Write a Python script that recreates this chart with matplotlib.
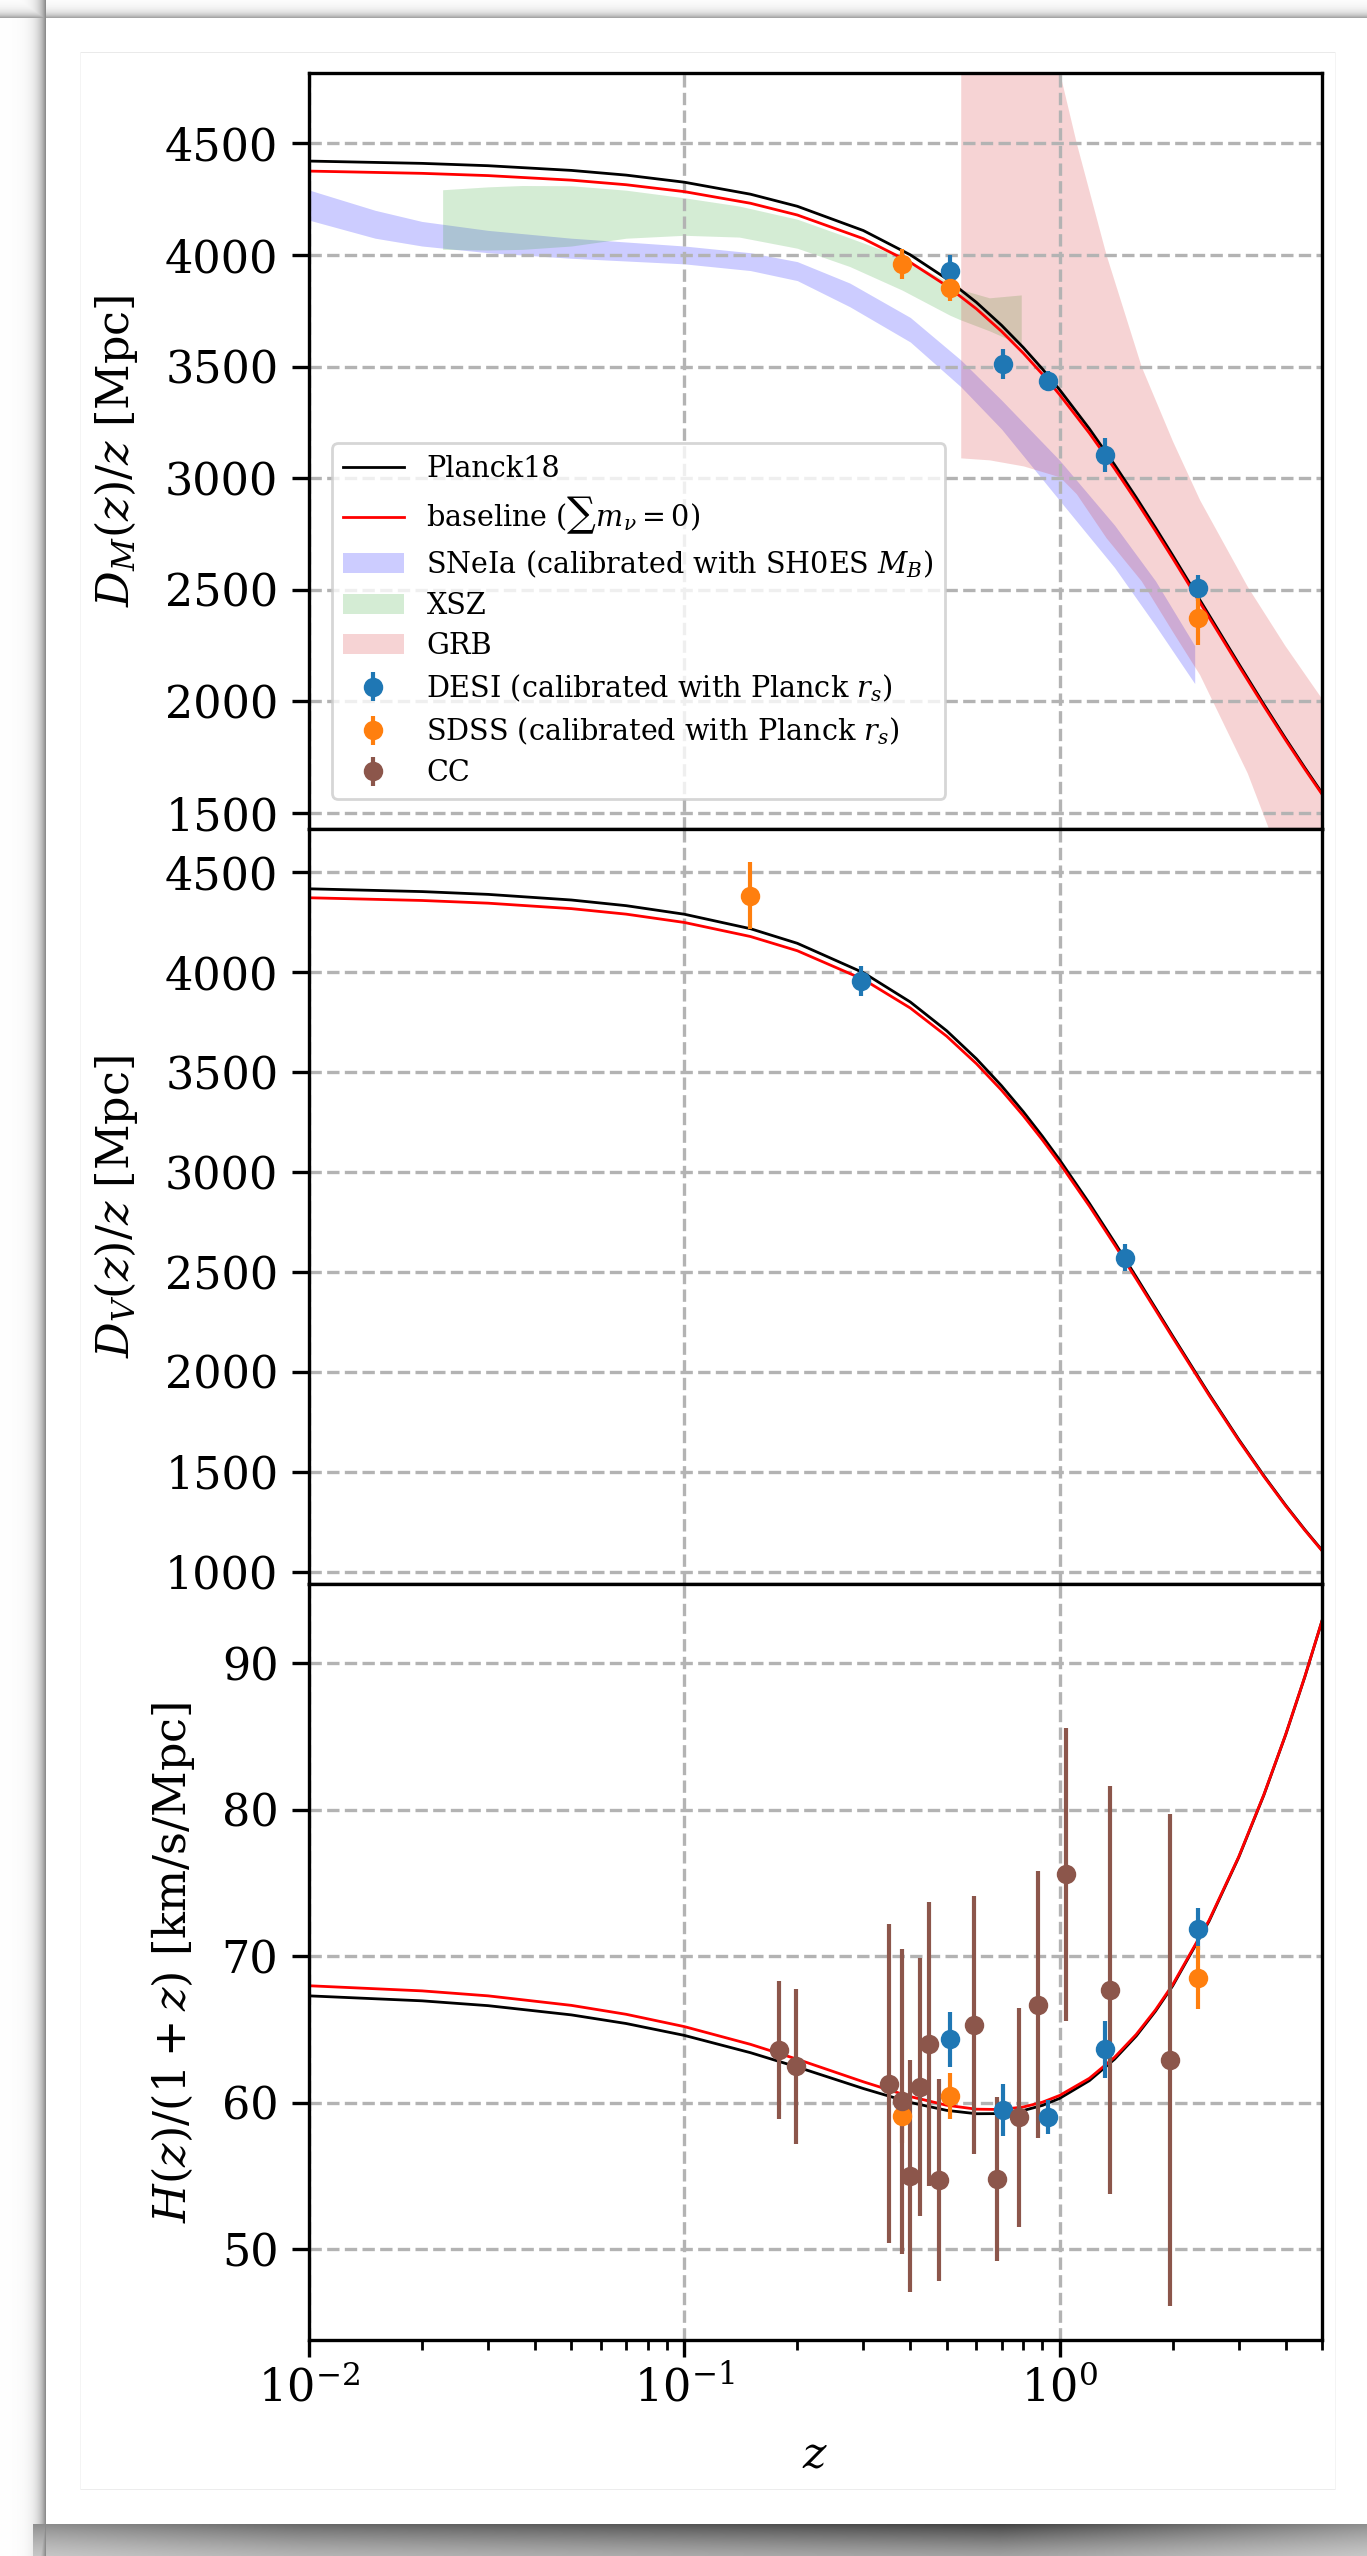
import numpy as np
import matplotlib
matplotlib.use('Agg')
import matplotlib.pyplot as plt

plt.rcParams['font.family'] = ['DejaVu Serif']
plt.rcParams['mathtext.fontset'] = 'dejavuserif'
plt.rcParams['font.size'] = 16

# ---- model curves ----
z_model = [0.01, 0.02, 0.03, 0.05, 0.07, 0.1, 0.15, 0.2, 0.3, 0.4, 0.5, 0.6, 0.7,
           0.8, 0.9, 1.0, 1.2, 1.4, 1.6, 1.8, 2.0, 2.5, 3.0, 3.5, 4.0, 4.5, 5.0]
dm_planck = [4420.5, 4410.2, 4399.7, 4378.7, 4357.6, 4325.8, 4272.1, 4218.0, 4109.2,
             4000.6, 3893.1, 3787.7, 3685.0, 3585.3, 3488.9, 3396.1, 3221.3, 3060.6,
             2913.3, 2778.4, 2654.7, 2387.4, 2168.6, 1986.8, 1833.6, 1702.8, 1589.9]
dm_base = [4375.6, 4365.5, 4355.4, 4335.0, 4314.5, 4283.6, 4231.5, 4178.9, 4072.9,
           3966.9, 3861.8, 3758.6, 3657.9, 3560.0, 3465.3, 3373.9, 3201.7, 3043.1,
           2897.6, 2764.1, 2641.6, 2376.8, 2159.6, 1979.0, 1826.8, 1696.7, 1584.4]
dv_planck = [4417.1, 4403.2, 4389.2, 4361.1, 4332.7, 4289.9, 4217.5, 4144.4, 3997.3,
             3850.8, 3706.8, 3566.7, 3431.6, 3302.0, 3178.3, 3060.7, 2843.4, 2648.8,
             2474.9, 2319.3, 2179.9, 1889.4, 1662.1, 1480.7, 1332.9, 1210.6, 1107.8]
dv_base = [4372.3, 4358.7, 4345.2, 4317.9, 4290.3, 4248.7, 4178.4, 4107.2, 3963.7,
           3820.6, 3679.6, 3542.2, 3409.4, 3281.9, 3160.1, 3044.0, 2829.4, 2636.8,
           2464.5, 2310.3, 2172.0, 1883.3, 1657.2, 1476.6, 1329.5, 1207.7, 1105.2]
hz_planck = [67.30, 66.96, 66.63, 66.00, 65.41, 64.60, 63.42, 62.44, 60.97, 60.02, 59.48,
             59.25, 59.26, 59.47, 59.82, 60.30, 61.51, 62.97, 64.56, 66.25, 67.98, 72.39,
             76.76, 81.01, 85.12, 89.08, 92.90]
hz_base = [67.99, 67.64, 67.30, 66.65, 66.04, 65.20, 63.99, 62.97, 61.43, 60.42, 59.83,
           59.56, 59.54, 59.71, 60.04, 60.50, 61.67, 63.10, 64.67, 66.34, 68.06, 72.45,
           76.80, 81.04, 85.14, 89.10, 92.91]

# ---- reconstructed bands in the top panel ----
z_sn = [0.01, 0.015, 0.02, 0.03, 0.05, 0.1, 0.15, 0.2, 0.276, 0.4, 0.545, 0.7, 1.0, 1.4, 1.8, 2.29]
sn_hi = [4291, 4200, 4150, 4110, 4075, 4040, 4010, 3970, 3874, 3720, 3530, 3350, 3080, 2790, 2540, 2250]
sn_lo = [4156, 4075, 4040, 4010, 3985, 3960, 3930, 3885, 3768, 3610, 3410, 3220, 2900, 2600, 2340, 2080]

z_xsz = [0.0227, 0.03, 0.037, 0.05, 0.07, 0.1, 0.14, 0.2, 0.276, 0.38, 0.51, 0.545, 0.65, 0.79]
xsz_hi = [4292, 4305, 4311, 4310, 4290, 4256, 4219, 4160, 4076, 3990, 3874, 3845, 3808, 3821]
xsz_lo = [4025, 4022, 4025, 4040, 4075, 4088, 4080, 4030, 3948, 3843, 3730, 3709, 3660, 3597]

z_grb = [0.545, 0.65, 0.8, 1.0, 1.108, 1.33, 1.65, 2.0, 2.36, 3.16, 3.98, 5.0]
grb_hi = [6500, 6000, 5400, 4815, 4500, 4000, 3500, 3165, 2903, 2516, 2251, 2011]
grb_lo = [3091, 3082, 3055, 3006, 2930, 2733, 2540, 2312, 2120, 1680, 1240, 760]

# ---- BAO / CC measurements ----
desi_dm_z = [0.51, 0.706, 0.93, 1.317, 2.33]
desi_dm = [3928, 3511, 3434, 3104, 2507]
desi_dm_err = [72, 67, 44, 77, 59]
sdss_dm_z = [0.38, 0.51, 2.33]
sdss_dm = [3960, 3853, 2374]
sdss_dm_err = [66, 61, 120]

desi_dv_z = [0.295, 1.491]
desi_dv = [3954, 2572]
desi_dv_err = [75, 66]
sdss_dv_z = [0.15]
sdss_dv = [4383]
sdss_dv_err = [167]

desi_h_z = [0.51, 0.706, 0.93, 1.317, 2.33]
desi_h = [64.34, 59.50, 59.06, 63.65, 71.84]
desi_h_err = [1.87, 1.78, 1.16, 1.93, 1.43]
sdss_h_z = [0.38, 0.51, 2.33]
sdss_h = [59.08, 60.45, 68.54]
sdss_h_err = [1.80, 1.57, 2.15]
cc_z = [0.179, 0.199, 0.352, 0.3802, 0.4004, 0.4247, 0.4497, 0.4783, 0.593, 0.68,
        0.781, 0.875, 1.037, 1.363, 1.965]
cc_h = [63.6, 62.5, 61.3, 60.1, 55.0, 61.1, 64.0, 54.7, 65.3, 54.8, 59.0, 66.7, 75.6, 67.7, 62.9]
cc_err = [4.7, 5.3, 10.9, 10.4, 7.9, 8.8, 9.7, 6.9, 8.8, 5.6, 7.5, 9.1, 10.0, 13.9, 16.8]

# ---- figure ----
fig, axes = plt.subplots(3, 1, sharex=True, figsize=(6.835, 12.78), dpi=200)
fig.subplots_adjust(left=309 / 1367, right=1322 / 1367, top=1 - 73 / 2556,
                    bottom=1 - 2340 / 2556, hspace=0)

# screenshot page + drop shadow behind everything
W, H = 1367, 2556
yy, xx = np.mgrid[0:H, 0:W]
dl = 46 - xx
dt = 18 - yy
db = yy - 2523
shade = np.zeros((H, W))
shade = np.maximum(shade, np.where(dl > 0, 0.45 * np.exp(-(dl - 1) / 7.0), 0))
shade = np.maximum(shade, np.where(dt > 0, 0.35 * np.exp(-(dt - 1) / 5.0), 0))
bot_strength = np.interp(xx, [30, 300, 1000, 1367], [0.45, 0.6, 0.75, 0.45])
shade = np.maximum(shade, np.where((db > 0) & (xx > 32), bot_strength * np.exp(-db / 45.0), 0))
page = 1 - shade
page[52, 80:1336] = 0.92
page[2489, 80:1336] = 0.93
page[52:2490, 80] = 0.96
page[52:2490, 1335] = 0.96
bg = fig.add_axes([0, 0, 1, 1], zorder=-10)
bg.imshow(np.dstack([page] * 3), aspect='auto', interpolation='nearest')
bg.axis('off')

ax1, ax2, ax3 = axes
for ax in axes:
    ax.set_xscale('log')
    ax.grid(True, which='major', ls='--', color='0.7', lw=1.2)
    for sp in ax.spines.values():
        sp.set_linewidth(1.2)
    ax.tick_params(axis='y', direction='out', length=6, width=1.2, pad=5, labelsize=16)

l1, = ax1.plot(z_model, dm_planck, color='k', lw=1.0, label='Planck18')
l2, = ax1.plot(z_model, dm_base, color='red', lw=1.0, label=r'baseline ($\sum m_\nu=0$)')
b1 = ax1.fill_between(z_sn, sn_lo, sn_hi, color='b', alpha=0.2, lw=0,
                      label=r'SNeIa (calibrated with SH0ES $M_B$)')
b2 = ax1.fill_between(z_xsz, xsz_lo, xsz_hi, color='tab:green', alpha=0.2, lw=0, label='XSZ')
b3 = ax1.fill_between(z_grb, grb_lo, grb_hi, color='tab:red', alpha=0.2, lw=0, label='GRB')
e1 = ax1.errorbar(desi_dm_z, desi_dm, yerr=desi_dm_err, fmt='o', color='C0',
                  label=r'DESI (calibrated with Planck $r_s$)')
e2 = ax1.errorbar(sdss_dm_z, sdss_dm, yerr=sdss_dm_err, fmt='o', color='C1',
                  label=r'SDSS (calibrated with Planck $r_s$)')
ax1.set_ylim(1430, 4815)
ax1.set_yticks([1500, 2000, 2500, 3000, 3500, 4000, 4500])
ax1.set_ylabel(r'$D_M(z)/z$ [Mpc]', labelpad=9)

ax2.plot(z_model, dv_planck, color='k', lw=1.0)
ax2.plot(z_model, dv_base, color='red', lw=1.0)
ax2.errorbar(desi_dv_z, desi_dv, yerr=desi_dv_err, fmt='o', color='C0')
ax2.errorbar(sdss_dv_z, sdss_dv, yerr=sdss_dv_err, fmt='o', color='C1')
ax2.set_ylim(937, 4718)
ax2.set_yticks([1000, 1500, 2000, 2500, 3000, 3500, 4000, 4500])
ax2.set_ylabel(r'$D_V(z)/z$ [Mpc]', labelpad=9)

ax3.plot(z_model, hz_planck, color='k', lw=1.0)
ax3.plot(z_model, hz_base, color='red', lw=1.0)
ax3.errorbar(desi_h_z, desi_h, yerr=desi_h_err, fmt='o', color='C0')
ax3.errorbar(sdss_h_z, sdss_h, yerr=sdss_h_err, fmt='o', color='C1')
e3 = ax3.errorbar(cc_z, cc_h, yerr=cc_err, fmt='o', color='C5', label='CC')
ax3.set_ylim(43.8, 95.4)
ax3.set_yticks([50, 60, 70, 80, 90])
ax3.set_ylabel(r'$H(z)/(1+z)$ [km/s/Mpc]', labelpad=9)

ax3.set_xlim(0.01, 5)
ax3.set_xlabel(r'$z$', labelpad=8)
for ax in (ax1, ax2):
    ax.tick_params(axis='x', which='both', bottom=False)
ax3.tick_params(axis='x', which='major', direction='out', length=6, width=1.2, labelsize=16)
ax3.tick_params(axis='x', which='minor', direction='out', length=3.5, width=1.0)

ax1.legend(handles=[l1, l2, b1, b2, b3, e1, e2, e3], loc='lower left',
           bbox_to_anchor=(0.0227, 0.0397), borderaxespad=0, fontsize=10.3,
           handlelength=2.1, labelspacing=0.42)

fig.savefig('out.png', dpi=200)
